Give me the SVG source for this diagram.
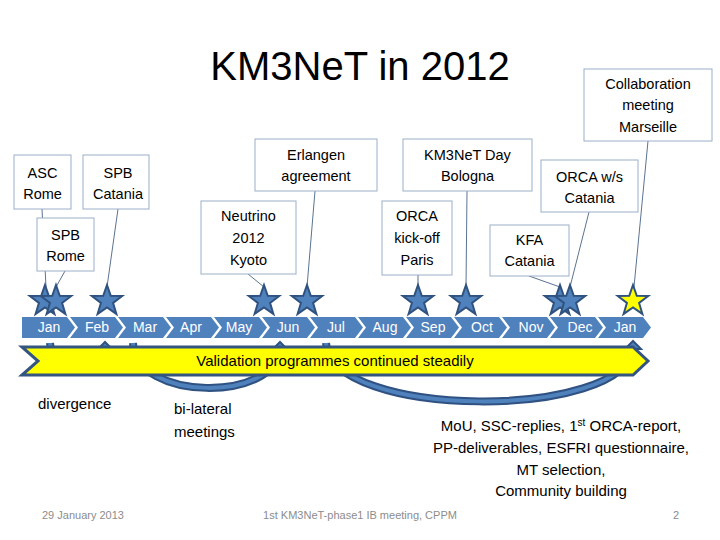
<svg xmlns="http://www.w3.org/2000/svg" width="720" height="540" viewBox="0 0 720 540">
<style>
.t{font-family:"Liberation Sans",Arial,sans-serif;fill:#000;}
.box rect{fill:#fff;stroke:#9bb0c9;stroke-width:1;}
.box text{font-family:"Liberation Sans",Arial,sans-serif;font-size:14.5px;fill:#000;text-anchor:middle;}
.mon{fill:#4f81bd;}
.mt{font-family:"Liberation Sans",Arial,sans-serif;font-size:14px;fill:#fff;text-anchor:middle;}
.star{fill:#4f81bd;stroke:#30527f;stroke-width:2;stroke-linejoin:miter;}
.conn line{stroke:#5b7391;stroke-width:1;}
.band{fill:none;stroke:#2f5282;stroke-width:8;}
.bandi{fill:none;stroke:#4f81bd;stroke-width:4;}
.head{fill:#4f81bd;stroke:#2f5282;stroke-width:2;}
.foot{font-family:"Liberation Sans",Arial,sans-serif;font-size:11px;fill:#8c8c8c;}
</style>
<defs>
<polygon id="st" points="0,-16 3.76,-5.18 15.22,-4.94 6.09,1.98 9.4,12.94 0,6.4 -9.4,12.94 -6.09,1.98 -15.22,-4.94 -3.76,-5.18"/>
</defs>
<rect width="720" height="540" fill="#fff"/>

<text class="t" x="360" y="80" font-size="40" text-anchor="middle">KM3NeT in 2012</text>

<!-- curved arrows behind the bar -->
<g id="curved-arrows">
<path class="band" d="M50 343 C52 378 103 378 105 348"/>
<path class="bandi" d="M50 343 C52 378 103 378 105 348"/>
<polygon class="head" points="98,349 105,342 112,349"/>
<path class="band" d="M133 343 C135 402 278 402 280 348"/>
<path class="bandi" d="M133 343 C135 402 278 402 280 348"/>
<polygon class="head" points="273,349 280,342 287,349"/>
<path class="band" d="M326 343 C330 420 628 420 632 348"/>
<path class="bandi" d="M326 343 C330 420 628 420 632 348"/>
<polygon class="head" points="625,349 633,341 641,349"/>
</g>

<!-- month chevrons -->
<g id="timeline">
<polygon class="mon" points="22,317 67,317 75,327.5 67,338 22,338"/>
<polygon class="mon" points="70,317 115,317 123,327.5 115,338 70,338 78,327.5"/>
<polygon class="mon" points="118,317 163,317 171,327.5 163,338 118,338 126,327.5"/>
<polygon class="mon" points="166,317 211,317 219,327.5 211,338 166,338 174,327.5"/>
<polygon class="mon" points="214,317 259,317 267,327.5 259,338 214,338 222,327.5"/>
<polygon class="mon" points="262,317 307,317 315,327.5 307,338 262,338 270,327.5"/>
<polygon class="mon" points="310,317 355,317 363,327.5 355,338 310,338 318,327.5"/>
<polygon class="mon" points="358,317 403,317 411,327.5 403,338 358,338 366,327.5"/>
<polygon class="mon" points="406,317 451,317 459,327.5 451,338 406,338 414,327.5"/>
<polygon class="mon" points="454,317 499,317 507,327.5 499,338 454,338 462,327.5"/>
<polygon class="mon" points="502,317 547,317 555,327.5 547,338 502,338 510,327.5"/>
<polygon class="mon" points="550,317 595,317 603,327.5 595,338 550,338 558,327.5"/>
<polygon class="mon" points="598,317 643,317 651,327.5 643,338 598,338 606,327.5"/>
<text class="mt" x="49" y="332">Jan</text>
<text class="mt" x="97" y="332">Feb</text>
<text class="mt" x="145" y="332">Mar</text>
<text class="mt" x="191" y="332">Apr</text>
<text class="mt" x="239" y="332">May</text>
<text class="mt" x="288" y="332">Jun</text>
<text class="mt" x="336" y="332">Jul</text>
<text class="mt" x="385" y="332">Aug</text>
<text class="mt" x="433" y="332">Sep</text>
<text class="mt" x="482" y="332">Oct</text>
<text class="mt" x="531" y="332">Nov</text>
<text class="mt" x="580" y="332">Dec</text>
<text class="mt" x="625" y="332">Jan</text>
</g>

<!-- yellow bar -->
<g id="validation">
<polygon points="22,347 633,347 648,361 633,375 22,375 38,361" fill="#ffff00" stroke="#33557f" stroke-width="3"/>
<text class="t" x="335" y="366" font-size="15" text-anchor="middle">Validation programmes continued steadily</text>
</g>

<!-- connectors -->
<g id="connectors" class="conn">
<line x1="42" y1="209" x2="46" y2="287"/>
<line x1="65" y1="271" x2="56" y2="287"/>
<line x1="118" y1="209" x2="107" y2="287"/>
<line x1="248" y1="274" x2="264" y2="287"/>
<line x1="315" y1="191" x2="307" y2="287"/>
<line x1="418" y1="275" x2="418" y2="287"/>
<line x1="467" y1="191" x2="466" y2="287"/>
<line x1="529" y1="276" x2="560" y2="287"/>
<line x1="589" y1="212" x2="570" y2="287"/>
<line x1="648" y1="141" x2="634" y2="287"/>
</g>

<!-- stars -->
<g id="stars">
<use href="#st" class="star" x="45" y="301"/>
<use href="#st" class="star" x="56" y="301"/>
<use href="#st" class="star" x="107" y="301"/>
<use href="#st" class="star" x="264" y="301"/>
<use href="#st" class="star" x="307" y="301"/>
<use href="#st" class="star" x="418" y="301"/>
<use href="#st" class="star" x="466" y="301"/>
<use href="#st" class="star" x="560" y="301"/>
<use href="#st" class="star" x="570" y="301"/>
<use href="#st" class="star" x="633" y="301" style="fill:#ffff00"/>
</g>

<!-- boxes -->
<g id="asc-rome" class="box"><rect x="14" y="155" width="57" height="54"/><text x="42.5" y="178">ASC</text><text x="42.5" y="199">Rome</text></g>
<g id="spb-catania" class="box"><rect x="83" y="155" width="66" height="54"/><text x="118" y="178">SPB</text><text x="118" y="199">Catania</text></g>
<g id="spb-rome" class="box"><rect x="37" y="218" width="57" height="53"/><text x="65.5" y="240">SPB</text><text x="65.5" y="261">Rome</text></g>
<g id="erlangen" class="box"><rect x="255" y="139" width="122" height="52"/><text x="316" y="160">Erlangen</text><text x="316" y="181">agreement</text></g>
<g id="neutrino" class="box"><rect x="201" y="201" width="95" height="73"/><text x="248.5" y="221">Neutrino</text><text x="248.5" y="243">2012</text><text x="248.5" y="265">Kyoto</text></g>
<g id="km3net-day" class="box"><rect x="403" y="139" width="129" height="52"/><text x="467.5" y="160">KM3NeT Day</text><text x="467.5" y="181">Bologna</text></g>
<g id="orca-kickoff" class="box"><rect x="382" y="201" width="70" height="74"/><text x="417" y="221">ORCA</text><text x="417" y="243">kick-off</text><text x="417" y="265">Paris</text></g>
<g id="orca-ws" class="box"><rect x="541" y="160" width="97" height="52"/><text x="589.5" y="182">ORCA w/s</text><text x="589.5" y="203">Catania</text></g>
<g id="kfa" class="box"><rect x="490" y="225" width="79" height="51"/><text x="529.5" y="245">KFA</text><text x="529.5" y="266">Catania</text></g>
<g id="collab" class="box"><rect x="584" y="69" width="128" height="72"/><text x="648" y="89">Collaboration</text><text x="648" y="110">meeting</text><text x="648" y="132">Marseille</text></g>

<!-- lower labels -->
<text class="t" x="38" y="409" font-size="15">divergence</text>
<text class="t" x="174" y="414" font-size="15">bi-lateral</text>
<text class="t" x="174" y="437" font-size="15">meetings</text>
<g class="t" font-size="15" text-anchor="middle">
<text x="561" y="431">MoU, SSC-replies, 1<tspan font-size="10" dy="-5">st</tspan><tspan dy="5"> ORCA-report,</tspan></text>
<text x="561" y="453">PP-deliverables, ESFRI questionnaire,</text>
<text x="561" y="475">MT selection,</text>
<text x="561" y="496">Community building</text>
</g>

<text class="foot" x="42" y="519">29 January 2013</text>
<text class="foot" x="360" y="519" text-anchor="middle">1st KM3NeT-phase1 IB meeting, CPPM</text>
<text class="foot" x="673" y="519">2</text>
</svg>
